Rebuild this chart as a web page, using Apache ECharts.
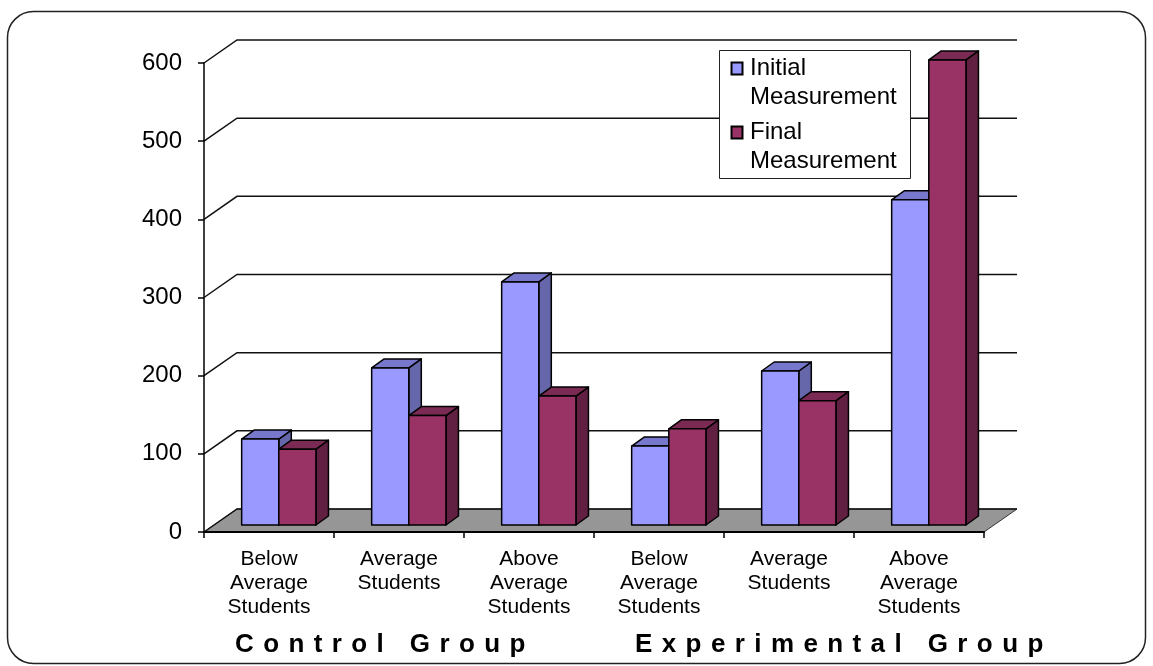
<!DOCTYPE html>
<html>
<head>
<meta charset="utf-8">
<script src="https://cdn.jsdelivr.net/npm/echarts@6/dist/echarts.min.js"></script>
<style>
  html, body { margin: 0; padding: 0; background: #fff; }
  #chart { width: 1153px; height: 666px; }
</style>
</head>
<body>
<div id="chart"></div>
<script>
// ---- data ----
const categories = [
  'Below\nAverage\nStudents', 'Average\nStudents', 'Above\nAverage\nStudents',
  'Below\nAverage\nStudents', 'Average\nStudents', 'Above\nAverage\nStudents'
];
const seriesNames = ['Initial Measurement', 'Final Measurement'];
const initialValues = [110, 201, 311, 101, 197, 416];
const finalValues = [97, 140, 165, 123, 159, 595];
const yTicks = [0, 100, 200, 300, 400, 500, 600];
const groupTitles = ['Control Group', 'Experimental Group'];

// ---- look ----
const FONT = '"Liberation Sans", Arial, sans-serif';
const FLOOR_DEPTH = [33, -23];   // oblique offset of the back wall
const BAR_FRONT = [9.8, -7];     // where the bar front faces sit in depth
const BAR_DEPTH = [12.5, -9];    // thickness of each bar in depth
const COLORS = [
  { front: '#9999ff', top: '#7777cc', side: '#6666aa' },
  { front: '#993366', top: '#7b2a54', side: '#612041' }
];

const chart = echarts.init(document.getElementById('chart'), null, { renderer: 'canvas' });

function renderFloor(params, api) {
  const cs = params.coordSys;
  const y0 = api.coord([0, 0])[1];
  const x0 = cs.x, x1 = cs.x + cs.width;
  return {
    type: 'polygon',
    shape: { points: [
      [x0, y0], [x1, y0],
      [x1 + FLOOR_DEPTH[0], y0 + FLOOR_DEPTH[1]],
      [x0 + FLOOR_DEPTH[0], y0 + FLOOR_DEPTH[1]]
    ] },
    style: { fill: '#969696', stroke: '#333', lineWidth: 1 }
  };
}

function renderWall(params, api) {
  const cs = params.coordSys;
  const y = api.coord([0, api.value(1)])[1];
  return {
    type: 'polyline',
    shape: { points: [
      [cs.x, y],
      [cs.x + FLOOR_DEPTH[0], y + FLOOR_DEPTH[1]],
      [cs.x + cs.width + FLOOR_DEPTH[0], y + FLOOR_DEPTH[1]]
    ] },
    style: { stroke: '#111', lineWidth: 1.5, fill: null }
  };
}

function makeBarRenderer(slot) {
  const c = COLORS[slot];
  return function (params, api) {
    const ci = api.value(0);
    const v = api.value(1);
    const base = api.coord([ci, 0]);
    const top = api.coord([ci, v]);
    const w = api.size([1, 0])[0] / 3.5;
    const xl = base[0] - w + slot * w + BAR_FRONT[0];
    const xr = xl + w;
    const yb = base[1] + BAR_FRONT[1];
    const yt = top[1] + BAR_FRONT[1];
    const dx = BAR_DEPTH[0], dy = BAR_DEPTH[1];
    const edge = { stroke: '#000', lineWidth: 1.5, lineJoin: 'round' };
    return {
      type: 'group',
      children: [
        { type: 'polygon', shape: { points: [[xr, yt], [xr + dx, yt + dy], [xr + dx, yb + dy], [xr, yb]] },
          style: Object.assign({ fill: c.side }, edge) },
        { type: 'polygon', shape: { points: [[xl, yt], [xl + dx, yt + dy], [xr + dx, yt + dy], [xr, yt]] },
          style: Object.assign({ fill: c.top }, edge) },
        { type: 'rect', shape: { x: xl, y: yt, width: w, height: yb - yt },
          style: Object.assign({ fill: c.front }, edge) }
      ]
    };
  };
}

// letter-spaced bold captions, placed glyph by glyph
const measureCtx = document.createElement('canvas').getContext('2d');
function spacedText(str, left, cy, size, spacing) {
  const font = 'bold ' + size + 'px ' + FONT;
  measureCtx.font = font;
  const out = [];
  let x = left;
  for (const ch of str) {
    if (ch !== ' ') {
      out.push({ type: 'text', x: x, y: cy, z: 50,
        style: { text: ch, font: font, fill: '#000', align: 'left', verticalAlign: 'middle' } });
    }
    x += measureCtx.measureText(ch).width + spacing;
  }
  return out;
}

// legend drawn as a boxed key with wrapped names
function legendGraphics() {
  const box = { x: 719, y: 50, w: 191, h: 128 };
  const els = [{
    type: 'rect', z: 60,
    shape: { x: box.x + 0.5, y: box.y + 0.5, width: box.w, height: box.h },
    style: { fill: '#fff', stroke: '#222', lineWidth: 1 }
  }];
  const firstLine = [68.5, 132.5];
  const lineGap = 28.7;
  seriesNames.forEach(function (name, i) {
    const words = name.split(' ');
    const y = firstLine[i];
    els.push({
      type: 'rect', z: 61,
      shape: { x: 731.5, y: y - 6, width: 11, height: 12 },
      style: { fill: COLORS[i].front, stroke: '#000', lineWidth: 2 }
    });
    words.forEach(function (wd, k) {
      els.push({
        type: 'text', z: 61, x: 750, y: y + k * lineGap,
        style: { text: wd, font: '24px ' + FONT, fill: '#000', align: 'left', verticalAlign: 'middle' }
      });
    });
  });
  return els;
}

const graphics = [
  {
    type: 'rect', z: 0, silent: true,
    shape: { x: 7.5, y: 11.5, width: 1138, height: 652, r: 26 },
    style: { fill: null, stroke: '#222', lineWidth: 1.5 }
  }
].concat(
  spacedText(groupTitles[0], 235, 645, 26, 9.4),
  spacedText(groupTitles[1], 635, 645, 26, 9.4),
  legendGraphics()
);

const option = {
  animation: false,
  backgroundColor: '#fff',
  grid: { left: 204, right: 169, top: 63, bottom: 134, containLabel: false },
  xAxis: {
    type: 'category',
    data: categories,
    z: 10,
    boundaryGap: true,
    axisLine: { show: true, lineStyle: { color: '#000', width: 2 } },
    axisTick: { show: true, interval: 0, length: 6, lineStyle: { color: '#000', width: 1.5 } },
    axisLabel: { interval: 0, fontSize: 21, lineHeight: 24, margin: 15, color: '#000', fontFamily: FONT },
    splitLine: { show: false }
  },
  yAxis: {
    type: 'value',
    min: 0, max: 600, interval: 100,
    z: 10,
    axisLine: { show: true, lineStyle: { color: '#000', width: 1.5 } },
    axisTick: { show: true, length: 6, lineStyle: { color: '#000', width: 1.5 } },
    axisLabel: { fontSize: 24, margin: 22, color: '#000', fontFamily: FONT },
    splitLine: { show: false }
  },
  series: [
    { type: 'custom', name: 'floor', renderItem: renderFloor, data: [[0, 0]], silent: true },
    { type: 'custom', name: 'wall', renderItem: renderWall, data: yTicks.map(function (v) { return [0, v]; }), silent: true },
    { type: 'custom', name: seriesNames[0], renderItem: makeBarRenderer(0),
      data: initialValues.map(function (v, i) { return [i, v]; }) },
    { type: 'custom', name: seriesNames[1], renderItem: makeBarRenderer(1),
      data: finalValues.map(function (v, i) { return [i, v]; }) }
  ],
  graphic: graphics
};

chart.setOption(option);
</script>
</body>
</html>
